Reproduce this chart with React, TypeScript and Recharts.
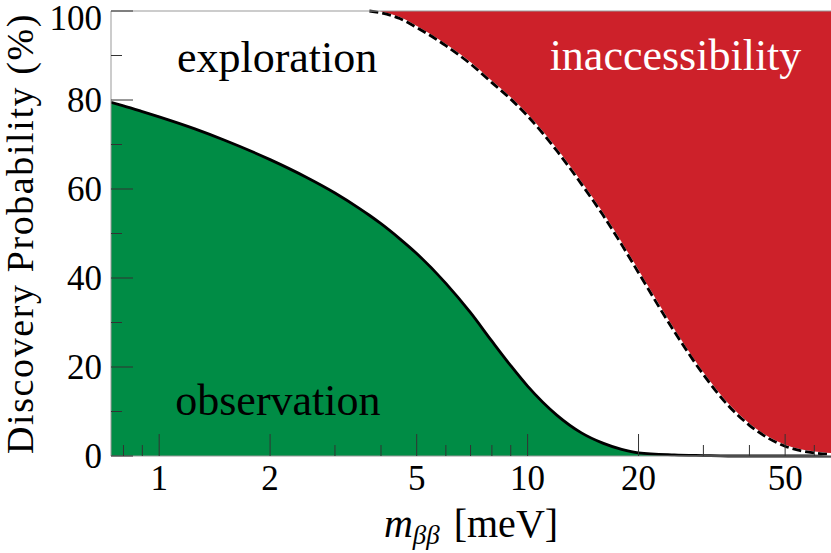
import { Area, ComposedChart, Label, Line, ReferenceDot, ReferenceLine, XAxis, YAxis } from "recharts";

// m_bb in meV (log axis)
const massValues = [
    0.74, 0.8, 0.9, 1, 1.25, 1.5, 2, 2.5, 3, 3.5, 3.72, 4, 4.5, 5, 6, 7, 8, 9, 10, 12, 14, 16, 18, 20, 25, 30, 35,
    40, 45, 50, 55, 60, 66.6,
];
// solid curve: discovery probability bounding the observation region (%)
const observation = [
    79.5, 78.7, 77.4, 76.2, 73.5, 71.0, 66.6, 62.7, 59.1, 55.6, 54.1, 52.2, 48.8, 45.5, 38.8, 32.2, 25.8, 20.3, 15.7,
    9.2, 5.2, 2.9, 1.5, 0.7, 0.25, 0.1, 0, 0, 0, 0, 0, 0, 0,
];
// dashed curve: bound of the inaccessibility region (%)
const inaccessibility = [
    null, null, null, null, null, null, null, null, null, null, 100, 99.6, 98.3, 96.3, 92.2, 88.1, 83.9, 80.2, 76.4,
    68.6, 61.1, 54.2, 47.5, 41.2, 28.0, 18.3, 11.4, 6.9, 4.0, 2.2, 1.2, 0.7, 0.35,
];

const xTicks = [0.8, 0.9, 1, 2, 3, 4, 5, 6, 7, 8, 9, 10, 20, 30, 40, 50, 60];
const xMajor = [1, 2, 5, 10, 20, 50];
const yTicks = [0, 10, 20, 30, 40, 50, 60, 70, 80, 90, 100];

const data = massValues.map((m, i) => ({
    m,
    obs: observation[i],
    inacc: inaccessibility[i],
}));

const green = "#008c45";
const red = "#cd212a";
const font = "'Liberation Serif', serif";

const XTick = ({x, y, payload}: any) => {
    const major = xMajor.includes(payload.value);
    return (
        <g>
            <line x1={x} x2={x} y1={y} y2={y - (major ? 22 : 11)} stroke="#333" strokeWidth={1}/>
            {major && (
                <text x={x} y={y + 34} textAnchor="middle" fontSize={35} fill="#000" fontFamily={font}>
                    {payload.value}
                </text>
            )}
        </g>
    );
};

const YTick = ({x, y, payload}: any) => {
    const major = payload.value % 20 === 0;
    // keep the top label inside the picture
    const baseline = Math.max(y + 12, 30);
    return (
        <g>
            <line x1={x} x2={x + (major ? 22 : 11)} y1={y} y2={y} stroke="#333" strokeWidth={1}/>
            {major && (
                <text x={x - 9} y={baseline} textAnchor="end" fontSize={35} fill="#000" fontFamily={font}>
                    {payload.value}
                </text>
            )}
        </g>
    );
};

const XTitle = ({viewBox}: any) => {
    const cx = viewBox.x + viewBox.width / 2;
    return (
        <text x={cx} y={viewBox.y + 81} textAnchor="middle" fontSize={40} fill="#000" fontFamily={font}>
            <tspan fontStyle="italic">m</tspan>
            <tspan fontStyle="italic" fontSize={27} dy={7}>ββ</tspan>
            <tspan dy={-7} dx={14}>[meV]</tspan>
        </text>
    );
};

const YTitle = ({viewBox}: any) => {
    const cx = viewBox.x + 33;
    const cy = viewBox.y + viewBox.height / 2;
    return (
        <text x={cx} y={cy} transform={`rotate(-90, ${cx}, ${cy})`} textAnchor="middle" fontSize={38}
              letterSpacing={1.6} fill="#000" fontFamily={font}>
            Discovery Probability (%)
        </text>
    );
};

const App = () => {
    return (
        <div style={{position: "absolute", left: 0, top: 0}}>
            <ComposedChart width={831} height={553} data={data} margin={{top: 11, right: 0, left: 0, bottom: 0}}
                           style={{fontFamily: font}}>
                <Area
                    type="monotone"
                    dataKey="obs"
                    baseValue={0}
                    fill={green}
                    fillOpacity={1}
                    stroke="none"
                    isAnimationActive={false}
                />
                <Area
                    type="monotone"
                    dataKey={(d: any) => [d.inacc ?? 100, 100]}
                    fill={red}
                    fillOpacity={1}
                    stroke="none"
                    isAnimationActive={false}
                />
                <Line type="monotone" dataKey="obs" stroke="#000" strokeWidth={2.8} dot={false}
                      isAnimationActive={false}/>
                <Line type="monotone" dataKey="inacc" stroke="#fff" strokeWidth={2.8} dot={false}
                      isAnimationActive={false}/>
                <Line type="monotone" dataKey="inacc" stroke="#000" strokeWidth={2.8} strokeDasharray="9 4"
                      dot={false} isAnimationActive={false}/>
                <ReferenceLine y={100} stroke="#999" strokeWidth={1}/>
                <ReferenceDot x={2.09} y={89.8} r={0} fill="none" stroke="none">
                    <Label value="exploration" position="center" fontSize={44} fill="#000" fontFamily={font}/>
                </ReferenceDot>
                <ReferenceDot x={2.1} y={12.7} r={0} fill="none" stroke="none">
                    <Label value="observation" position="center" fontSize={44} fill="#000" fontFamily={font}/>
                </ReferenceDot>
                <ReferenceDot x={25.2} y={90.2} r={0} fill="none" stroke="none">
                    <Label value="inaccessibility" position="center" fontSize={44} fill="#fff" fontFamily={font}/>
                </ReferenceDot>
                <XAxis
                    dataKey="m"
                    type="number"
                    scale="log"
                    domain={[0.74, 66.6]}
                    allowDataOverflow
                    ticks={xTicks}
                    interval={0}
                    tick={<XTick/>}
                    tickLine={false}
                    tickSize={0}
                    tickMargin={0}
                    axisLine={{stroke: "#999"}}
                    height={97}
                >
                    <Label content={<XTitle/>}/>
                </XAxis>
                <YAxis
                    type="number"
                    domain={[0, 100]}
                    ticks={yTicks}
                    interval={0}
                    tick={<YTick/>}
                    tickLine={false}
                    tickSize={0}
                    tickMargin={0}
                    axisLine={{stroke: "#999"}}
                    width={111}
                >
                    <Label content={<YTitle/>}/>
                </YAxis>
            </ComposedChart>
        </div>
    );
};

export default App;
